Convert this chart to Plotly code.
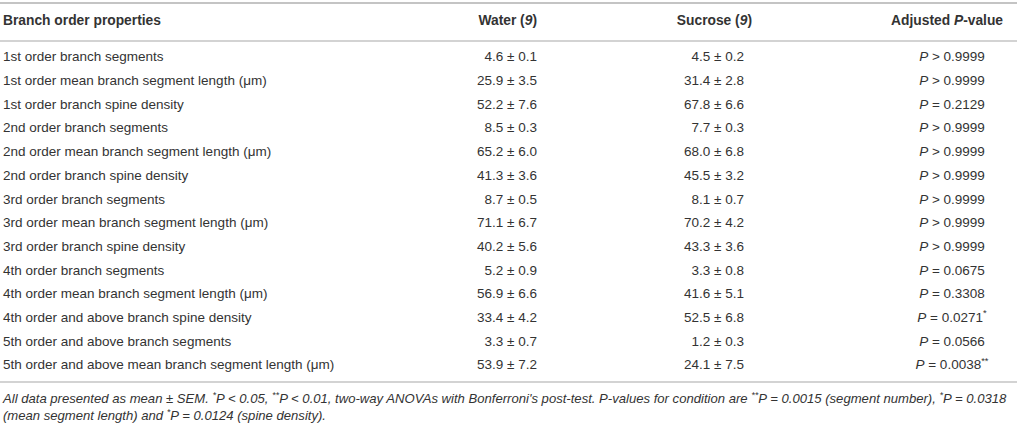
import plotly.graph_objects as go

# table content
properties = [
    "1st order branch segments",
    "1st order mean branch segment length (μm)",
    "1st order branch spine density",
    "2nd order branch segments",
    "2nd order mean branch segment length (μm)",
    "2nd order branch spine density",
    "3rd order branch segments",
    "3rd order mean branch segment length (μm)",
    "3rd order branch spine density",
    "4th order branch segments",
    "4th order mean branch segment length (μm)",
    "4th order and above branch spine density",
    "5th order and above branch segments",
    "5th order and above mean branch segment length (μm)",
]
water_mean = [4.6, 25.9, 52.2, 8.5, 65.2, 41.3, 8.7, 71.1, 40.2, 5.2, 56.9, 33.4, 3.3, 53.9]
water_sem = [0.1, 3.5, 7.6, 0.3, 6.0, 3.6, 0.5, 6.7, 5.6, 0.9, 6.6, 4.2, 0.7, 7.2]
sucrose_mean = [4.5, 31.4, 67.8, 7.7, 68.0, 45.5, 8.1, 70.2, 43.3, 3.3, 41.6, 52.5, 1.2, 24.1]
sucrose_sem = [0.2, 2.8, 6.6, 0.3, 6.8, 3.2, 0.7, 4.2, 3.6, 0.8, 5.1, 6.8, 0.3, 7.5]
p_sign = [">", ">", "=", ">", ">", ">", ">", ">", ">", "=", "=", "=", "=", "="]
p_value = ["0.9999", "0.9999", "0.2129", "0.9999", "0.9999", "0.9999", "0.9999",
           "0.9999", "0.9999", "0.0675", "0.3308", "0.0271", "0.0566", "0.0038"]
p_stars = ["", "", "", "", "", "", "", "", "", "", "", "*", "", "**"]

headers = ["Branch order properties", "Water (<i>9</i>)", "Sucrose (<i>9</i>)", "Adjusted <i>P</i>-value"]

footnote = [
    "All data presented as mean ± SEM. <sup>*</sup>P &lt; 0.05, <sup>**</sup>P &lt; 0.01, two-way ANOVAs with "
    "Bonferroni's post-test. P-values for condition are <sup>**</sup>P = 0.0015 (segment number), "
    "<sup>*</sup>P = 0.0318",
    "(mean segment length) and <sup>*</sup>P = 0.0124 (spine density).",
]

W, H = 1017, 425
ROW0, STEP = 58, 23.7
rows = [ROW0 + i * STEP for i in range(len(properties))]

txt = "#333333"
font = "Liberation Sans, Arial, sans-serif"

pm = " ± "
water_txt = [f"{m:.1f}{pm}{s:.1f}" for m, s in zip(water_mean, water_sem)]
sucrose_txt = [f"{m:.1f}{pm}{s:.1f}" for m, s in zip(sucrose_mean, sucrose_sem)]
sign_html = {">": "&gt;", "=": "="}
p_txt = [f"<i>P</i> {sign_html[sg]} {v}" + (f"<sup>{st}</sup>" if st else "")
         for sg, v, st in zip(p_sign, p_value, p_stars)]

fig = go.Figure()


def add_col(x, y, text, pos, size=13.5):
    fig.add_trace(go.Scatter(
        x=[x] * len(text), y=y, text=text, mode="text", textposition=pos,
        textfont=dict(family=font, size=size, color=txt),
        hoverinfo="skip", showlegend=False,
    ))


# header row
hy = 22
add_col(3, [hy], ["<b>" + headers[0] + "</b>"], "middle right", 13.8)
add_col(537, [hy], ["<b>" + headers[1] + "</b>"], "middle left", 13.8)
add_col(752, [hy], ["<b>" + headers[2] + "</b>"], "middle left", 13.8)
add_col(1003, [hy], ["<b>" + headers[3] + "</b>"], "middle left", 13.8)

# body
add_col(3, rows, properties, "middle right")
add_col(537, rows, water_txt, "middle left")
add_col(744, rows, sucrose_txt, "middle left")
add_col(952, rows, p_txt, "middle center")

# footnote
add_col(3, [400, 417], ["<i>" + f + "</i>" for f in footnote], "middle right", size=13.1)

for ly, lw in [(3, 2), (41, 1.5), (382, 1.5)]:
    fig.add_shape(type="line", x0=0, x1=W, y0=ly, y1=ly, xref="x", yref="y",
                  line=dict(color="#c4c4c4", width=lw))

fig.update_layout(
    width=W, height=H,
    margin=dict(l=0, r=0, t=0, b=0),
    paper_bgcolor="white", plot_bgcolor="white",
    xaxis=dict(range=[0, W], visible=False, fixedrange=True),
    yaxis=dict(range=[H, 0], visible=False, fixedrange=True),
)

fig.write_html("out.html", config={"displayModeBar": False},
               post_script="document.body.style.margin='0';")
